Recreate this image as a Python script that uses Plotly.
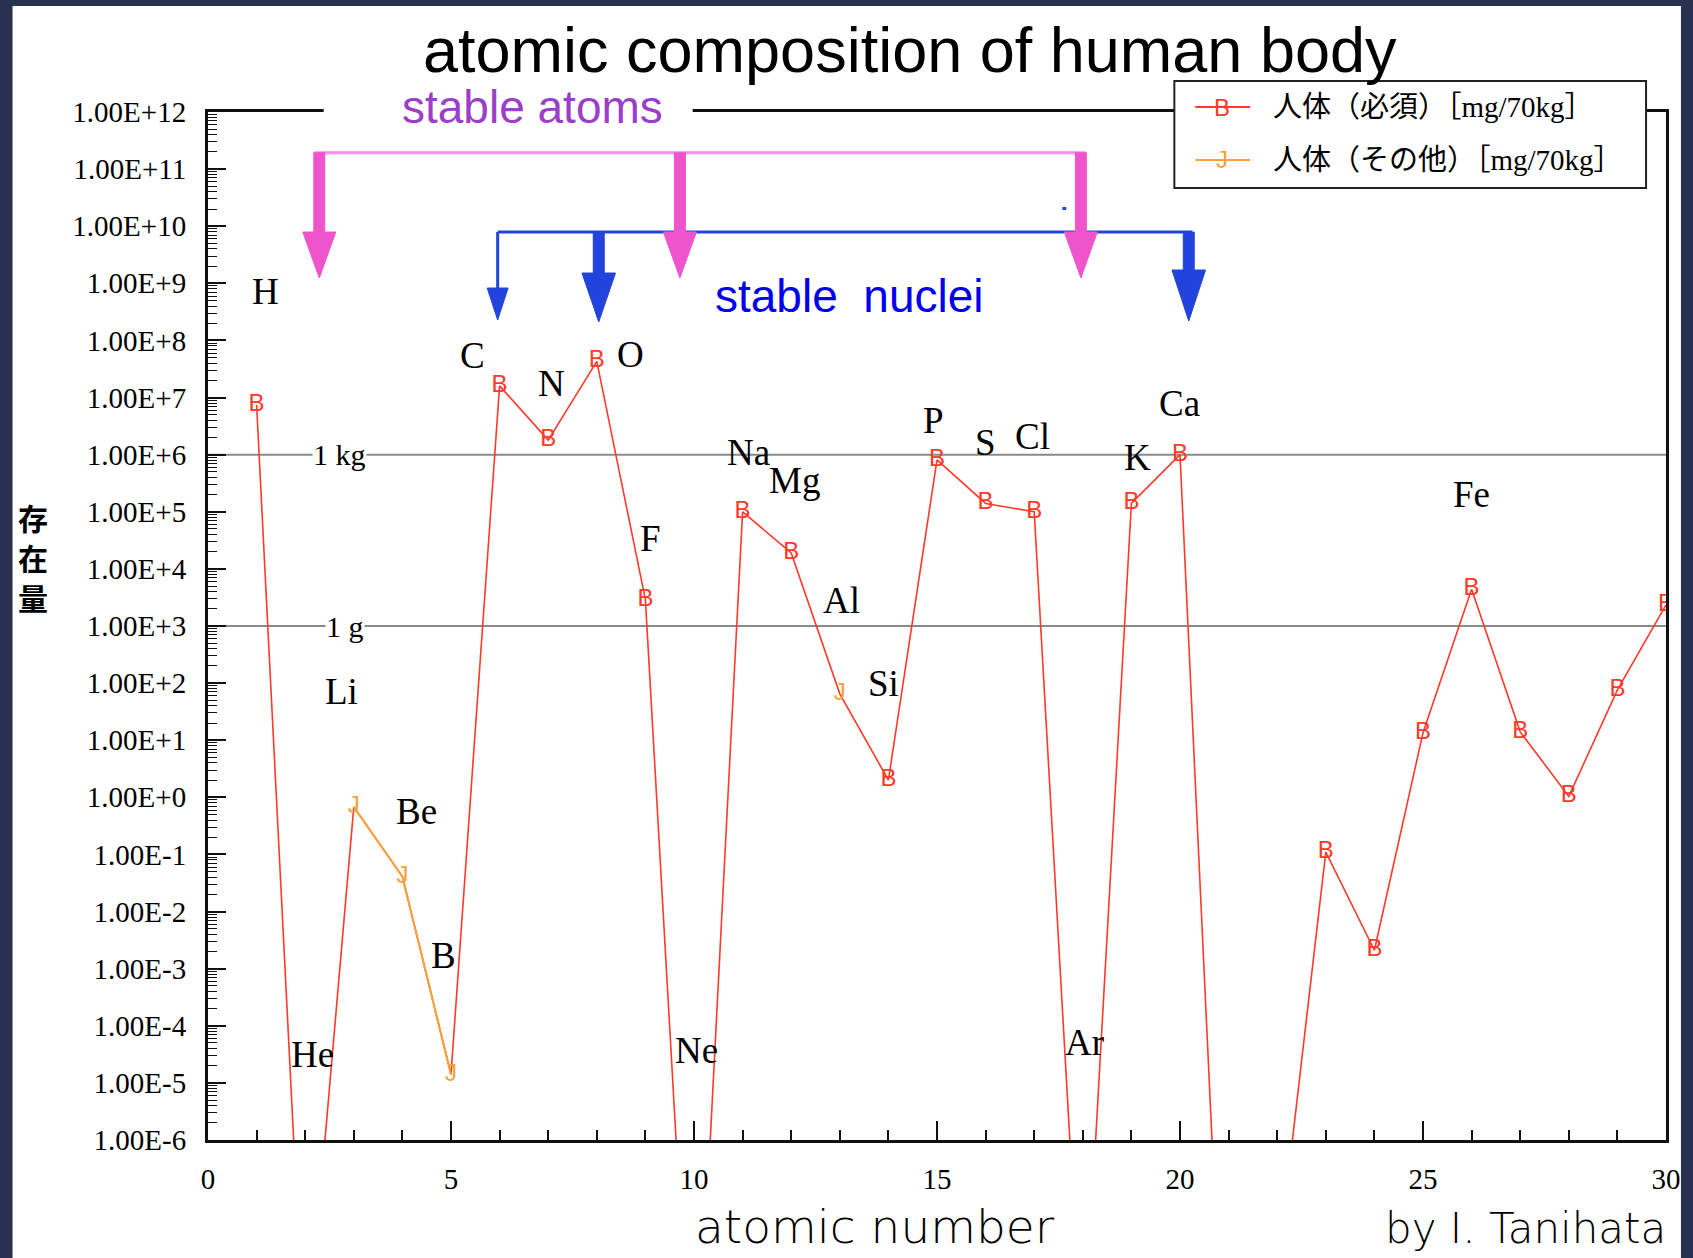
import plotly.graph_objects as go

# ---------------- data ----------------
atomic_number = list(range(1, 31))
element_symbols = ["H", "He", "Li", "Be", "B", "C", "N", "O", "F", "Ne",
                   "Na", "Mg", "Al", "Si", "P", "S", "Cl", "Ar", "K", "Ca",
                   "Sc", "Ti", "V", "Cr", "Mn", "Fe", "Co", "Ni", "Cu", "Zn"]
# amount in a 70 kg human body [mg]
essential_mg = [7.5e6, 1e-10, 0.68, 0.041, 1.4e-5, 1.6e7, 1.8e6, 4.3e7, 2.9e3, 3e-12,
                1.0e5, 1.9e4, 65, 2.0, 8.1e5, 1.4e5, 1.0e5, 1e-10, 1.4e5, 1.0e6,
                6e-13, 5e-9, 0.11, 2.1e-3, 13.5, 4.4e3, 14, 1.04, 76, 2.35e3]
essential_glyph = ["B", "", "", "", "", "B", "B", "B", "B", "",
                   "B", "B", "", "B", "B", "B", "B", "", "B", "B",
                   "", "", "B", "B", "B", "B", "B", "B", "B", "B"]
other_z = [3, 4, 5, 6, 7, 8, 9, 10, 11, 12, 13]
other_mg = [0.68, 0.041, 1.4e-5, None, None, None, None, None, None, None, 65]
other_glyph = ["J"] * len(other_z)

series_names = ["人体（必須）［mg/70kg］", "人体（その他）［mg/70kg］"]

x_tick_vals = [0, 5, 10, 15, 20, 25, 30]
x_tick_text = ["0", "5", "10", "15", "20", "25", "30"]
y_tick_vals = [1e12, 1e11, 1e10, 1e9, 1e8, 1e7, 1e6, 1e5, 1e4, 1e3, 1e2, 1e1, 1e0,
               1e-1, 1e-2, 1e-3, 1e-4, 1e-5, 1e-6]
y_tick_text = ["1.00E+12", "1.00E+11", "1.00E+10", "1.00E+9", "1.00E+8", "1.00E+7",
               "1.00E+6", "1.00E+5", "1.00E+4", "1.00E+3", "1.00E+2", "1.00E+1",
               "1.00E+0", "1.00E-1", "1.00E-2", "1.00E-3", "1.00E-4", "1.00E-5", "1.00E-6"]

# element name labels: (text, atomic-number position, log10 position)
label_text = ["H", "He", "Li", "Be", "B", "C", "N", "O", "F", "Ne", "Na", "Mg", "Al",
              "Si", "P", "S", "Cl", "Ar", "K", "Ca", "Fe"]
label_x = [1.18, 2.15, 2.75, 4.28, 4.85, 5.45, 7.07, 8.69, 9.11, 10.06, 11.12, 12.06, 13.03,
           13.89, 14.92, 16.0, 16.97, 18.04, 19.12, 19.98, 25.99]
label_y = [8.86, -4.51, 1.85, -0.25, -2.77, 7.73, 7.24, 7.76, 4.53, -4.43, 6.03, 5.55, 3.44,
           2.0, 6.59, 6.21, 6.31, -4.30, 5.95, 6.90, 5.31]

# ---------------- style ----------------
RED = "#ff3a2a"
ORANGE = "#f7a23a"
PINK = "#ee55cc"
PINK_LINE = "#f590ee"
BLUE = "#2244dd"
SERIF = "Liberation Serif, Times New Roman, serif"
SERIF_JP = "Liberation Serif, Noto Sans CJK JP, serif"
GLYPH = "Liberation Sans Narrow, Liberation Sans, Arial, sans-serif"
GOTHIC = "DejaVu Sans, sans-serif"

W, H = 1693, 1258
ML, MR, MT, MB = 208, 23, 112, 118
PW, PH = W - ML - MR, H - MT - MB


def px_x(p):
    return (p - ML) / PW


def px_y(p):
    return (H - MB - p) / PH


def lg_y(v):  # log10 value -> paper fraction for a -6..12 axis
    return (v + 6) / 18.0


def note(x, y, text, font, xanchor="center", **kw):
    d = dict(x=x, y=y, xref="paper", yref="paper", text=text, showarrow=False,
             xanchor=xanchor, yanchor="middle", font=font)
    d.update(kw)
    return d


fig = go.Figure()

fig.add_trace(go.Scatter(
    x=atomic_number, y=essential_mg, mode="lines+text", name=series_names[0],
    text=essential_glyph, textposition="middle center",
    textfont=dict(family=GLYPH, size=24, color=RED),
    line=dict(color=RED, width=1.6), showlegend=False, cliponaxis=True))

fig.add_trace(go.Scatter(
    x=other_z, y=other_mg, mode="lines+text", name=series_names[1],
    text=other_glyph, textposition="middle center",
    textfont=dict(family=GLYPH, size=24, color=ORANGE),
    line=dict(color=ORANGE, width=2), connectgaps=False, showlegend=False))

shapes = []
annotations = []

# white slide canvas over dark border
shapes.append(dict(type="rect", xref="paper", yref="paper", layer="below",
                   x0=px_x(12), x1=px_x(1685), y0=px_y(1270), y1=px_y(6),
                   fillcolor="white", line=dict(width=0)))

# reference lines 1 kg / 1 g
for lv in (6, 3):
    shapes.append(dict(type="line", xref="paper", yref="paper", layer="below",
                       x0=0, x1=1, y0=lg_y(lv), y1=lg_y(lv),
                       line=dict(color="#8a8a8a", width=2)))
annotations.append(dict(x=2.70, y=6, xref="x", yref="y", text="1 kg", showarrow=False,
                        xanchor="center", yanchor="middle",
                        font=dict(family=SERIF, size=30, color="black"),
                        bgcolor="white", borderpad=0))
annotations.append(dict(x=2.81, y=3, xref="x", yref="y", text="1 g", showarrow=False,
                        xanchor="center", yanchor="middle",
                        font=dict(family=SERIF, size=30, color="black"),
                        bgcolor="white", borderpad=0))


def arrow(xc, y_top, y_head, y_tip, shaft_half, head_half, color):
    path = (f"M {xc - shaft_half},{y_top} L {xc + shaft_half},{y_top} "
            f"L {xc + shaft_half},{y_head} L {xc + head_half},{y_head} "
            f"L {xc},{y_tip} L {xc - head_half},{y_head} L {xc - shaft_half},{y_head} Z")
    return dict(type="path", xref="x", yref="paper", path=path, layer="above",
                fillcolor=color, line=dict(color=color, width=1))


# blue "stable nuclei" bracket
y_blue = px_y(232)
shapes.append(dict(type="line", xref="x", yref="paper", layer="above",
                   x0=5.96, x1=20.25, y0=y_blue, y1=y_blue, line=dict(color=BLUE, width=3)))
shapes.append(dict(type="line", xref="x", yref="paper", layer="above",
                   x0=5.96, x1=5.96, y0=y_blue, y1=px_y(290), line=dict(color=BLUE, width=3)))
shapes.append(arrow(5.96, px_y(288), px_y(288), px_y(320), 0.03, 0.215, BLUE))
shapes.append(arrow(8.04, y_blue, px_y(273), px_y(322), 0.113, 0.345, BLUE))
shapes.append(arrow(20.18, y_blue, px_y(270), px_y(321), 0.113, 0.345, BLUE))
shapes.append(dict(type="rect", xref="x", yref="paper", layer="above",
                   x0=17.58, x1=17.66, y0=px_y(210), y1=px_y(207),
                   fillcolor=BLUE, line=dict(width=0)))

# pink "stable atoms" bracket
y_pink = px_y(152.7)
shapes.append(dict(type="line", xref="x", yref="paper", layer="above",
                   x0=2.18, x1=18.07, y0=y_pink, y1=y_pink, line=dict(color=PINK_LINE, width=3)))
for xc in (2.29, 9.71, 17.96):
    shapes.append(arrow(xc, y_pink, px_y(232), px_y(278), 0.113, 0.34, PINK))

# gap in the top frame behind "stable atoms"
shapes.append(dict(type="rect", xref="paper", yref="paper", layer="above",
                   x0=px_x(324), x1=px_x(694), y0=px_y(122), y1=px_y(100),
                   fillcolor="white", line=dict(width=0)))

# custom legend box
shapes.append(dict(type="rect", xref="paper", yref="paper", layer="above",
                   x0=px_x(1177), x1=px_x(1650), y0=px_y(188), y1=px_y(81),
                   fillcolor="white", line=dict(color="#222222", width=2)))
for i, (color, glyph) in enumerate([(RED, "B"), (ORANGE, "J")]):
    yy = px_y(107 + 53 * i)
    shapes.append(dict(type="line", xref="paper", yref="paper", layer="above",
                       x0=px_x(1198), x1=px_x(1253), y0=yy, y1=yy,
                       line=dict(color=color, width=2)))
    annotations.append(note(px_x(1225), yy, glyph,
                            dict(family=GLYPH, size=24, color=color)))
    annotations.append(note(px_x(1274), yy, series_names[i],
                            dict(family=SERIF_JP, size=29, color="black"), xanchor="left"))

# titles / texts
annotations.append(note(px_x(912), px_y(50), "atomic composition of human body",
                        dict(family="Liberation Sans, Arial, sans-serif", size=63, color="black")))
annotations.append(note(px_x(533), px_y(107), "stable atoms",
                        dict(family="Liberation Sans, Arial, sans-serif", size=46, color="#9b3fc9")))
annotations.append(note(px_x(851), px_y(296), "stable\u00a0 nuclei",
                        dict(family="Liberation Sans, Arial, sans-serif", size=46, color="#0000ee")))
annotations.append(note(px_x(877), px_y(1226), "atomic number",
                        dict(family=GOTHIC, size=47, color="black", weight=200)))
annotations.append(note(px_x(1529), px_y(1228), "by I. Tanihata",
                        dict(family=GOTHIC, size=42, color="black", weight=200)))
for ch, yc in zip("存在量", (517, 557, 597)):
    annotations.append(note(px_x(33), px_y(yc), f"<b>{ch}</b>",
                            dict(family="Noto Sans CJK JP, sans-serif", size=30, color="black")))

# element labels
for t, lx, ly in zip(label_text, label_x, label_y):
    annotations.append(dict(x=lx, y=ly, xref="x", yref="y", text=t, showarrow=False,
                            xanchor="center", yanchor="middle",
                            font=dict(family=SERIF, size=37, color="black")))

minor_y = [m * 10.0 ** k for k in range(-6, 12) for m in range(2, 10)]
minor_x = [v for v in range(0, 31) if v % 5 != 0]

fig.update_layout(
    width=W, height=H,
    margin=dict(l=ML, r=MR, t=MT, b=MB, pad=0),
    paper_bgcolor="#283150", plot_bgcolor="white",
    showlegend=False,
    shapes=shapes, annotations=annotations,
    xaxis=dict(range=[0, 30], tickmode="array", tickvals=x_tick_vals, ticktext=x_tick_text,
               ticks="inside", ticklen=19, tickwidth=2, tickcolor="#111111",
               minor=dict(tickmode="array", tickvals=minor_x, ticks="inside", ticklen=10,
                          tickwidth=1.5, tickcolor="#111111", showgrid=False),
               showline=True, linecolor="#111111", linewidth=3, mirror=True,
               showgrid=False, zeroline=False, ticklabelstandoff=11,
               tickfont=dict(family=SERIF, size=29, color="black")),
    yaxis=dict(type="log", range=[-6, 12], tickmode="array", tickvals=y_tick_vals,
               ticktext=y_tick_text, ticks="inside", ticklen=18, tickwidth=2,
               tickcolor="#111111",
               minor=dict(tickmode="array", tickvals=minor_y, ticks="inside", ticklen=9,
                          tickwidth=1.2, tickcolor="#111111", showgrid=False),
               showline=True, linecolor="#111111", linewidth=3, mirror=True,
               showgrid=False, zeroline=False, ticklabelstandoff=13,
               tickfont=dict(family=SERIF, size=29, color="black")),
)

fig.write_html("out.html")
